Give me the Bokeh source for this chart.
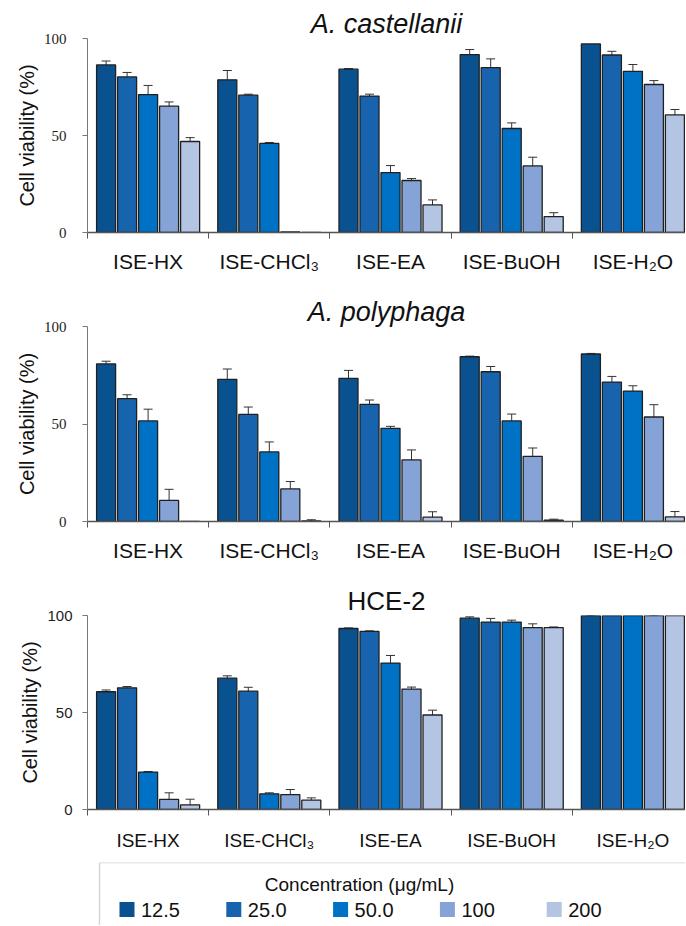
from bokeh.plotting import figure
from bokeh.models import ColumnDataSource, FixedTicker, Whisker, TeeHead, Label, BoxAnnotation, Range1d
from bokeh.layouts import column
from bokeh.embed import file_html
from bokeh.resources import INLINE
from bokeh.core.properties import value

# ---------------- data ----------------
extracts = ["ISE-HX", "ISE-CHCl\u2083", "ISE-EA", "ISE-BuOH", "ISE-H\u2082O"]
concentrations = ["12.5", "25.0", "50.0", "100", "200"]
conc_colors = ["#0a5190", "#1763ae", "#0072c6", "#85a3d6", "#b4c5e4"]

# A. castellanii (rows: extracts, cols: concentrations)
castellanii_mean = [
    [86.4, 80.2, 71.1, 65.1, 46.9],
    [78.7, 70.8, 45.9, 0.3, 0.0],
    [84.2, 70.3, 30.9, 26.8, 14.2],
    [91.7, 85.0, 53.6, 34.3, 8.2],
    [97.2, 91.5, 83.1, 76.3, 60.6],
]
castellanii_err = [
    [2.0, 2.3, 4.7, 2.2, 2.0],
    [4.8, 0.5, 0.5, 0.0, 0.0],
    [0.3, 1.0, 3.6, 1.0, 2.6],
    [2.6, 4.5, 2.9, 4.5, 2.0],
    [0.0, 1.9, 3.5, 2.0, 2.8],
]

# A. polyphaga
polyphaga_mean = [
    [80.8, 63.0, 51.6, 10.8, 0.0],
    [72.9, 54.9, 35.7, 16.7, 0.3],
    [73.4, 60.1, 47.8, 31.6, 2.2],
    [84.5, 76.8, 51.6, 33.4, 0.7],
    [85.9, 71.5, 66.9, 53.6, 2.4],
]
polyphaga_err = [
    [1.4, 2.0, 6.0, 5.7, 0.0],
    [5.3, 3.8, 5.1, 3.8, 0.6],
    [4.1, 2.2, 1.0, 5.1, 2.8],
    [0.3, 2.7, 3.5, 4.3, 0.5],
    [0.3, 2.9, 2.7, 6.3, 2.7],
]

# HCE-2
hce_mean = [
    [60.7, 62.7, 19.3, 5.2, 2.4],
    [67.7, 61.0, 8.1, 7.7, 4.8],
    [93.3, 91.8, 75.5, 62.1, 48.7],
    [98.6, 96.6, 96.6, 93.8, 93.8],
    [100.0, 100.0, 100.0, 100.0, 100.0],
]
hce_err = [
    [0.9, 0.7, 0.3, 3.4, 2.9],
    [1.2, 2.0, 0.5, 2.6, 1.2],
    [0.3, 0.3, 3.9, 1.0, 2.5],
    [0.7, 1.9, 1.0, 1.9, 0.3],
    [0.3, 0.0, 0.0, 0.3, 0.0],
]

y_ticks = [0, 50, 100]

FONT = "Liberation Sans"
W = 685
FRAME_LEFT = 87
BAR_STEP = 0.1733
BAR_W = 0.157


def make_panel(title, means, errs, height, top, bottom, title_style, title_size,
               tick_font, cat_size, tick_standoff, cat_standoff):
    p = figure(width=W, height=height, x_range=Range1d(-0.5, 4.434), y_range=Range1d(0, 100),
               output_backend="svg", toolbar_location=None, title=title,
               min_border_left=FRAME_LEFT, min_border_right=0,
               min_border_top=top, min_border_bottom=bottom)
    p.grid.visible = False
    p.outline_line_color = None
    p.background_fill_color = "white"

    p.title.align = "center"
    p.title.offset = 4
    p.title.standoff = 0
    p.title.text_font = FONT
    p.title.text_font_size = title_size
    p.title.text_font_style = title_style
    p.title.text_color = "#111111"

    xs, tops, cols, wx, wl, wu = [], [], [], [], [], []
    for i in range(len(extracts)):
        for j in range(len(concentrations)):
            x = i + (j - 2) * BAR_STEP
            m = means[i][j]
            e = errs[i][j]
            xs.append(x)
            tops.append(m)
            cols.append(conc_colors[j])
            if e > 0:
                wx.append(x)
                wl.append(m - e)
                wu.append(m + e)
    src = ColumnDataSource(dict(x=xs, top=tops, color=cols))
    p.vbar(x="x", top="top", width=BAR_W, bottom=0, fill_color="color",
           line_color="#202020", line_width=1.3, source=src)

    wsrc = ColumnDataSource(dict(x=wx, lower=wl, upper=wu))
    w = Whisker(base="x", lower="lower", upper="upper", source=wsrc, dimension="height",
                line_color="#333333", line_width=1,
                upper_head=TeeHead(size=9, line_color="#333333", line_width=1),
                lower_head=TeeHead(size=9, line_color="#333333", line_width=1))
    p.add_layout(w)

    xa = p.xaxis[0]
    xa.ticker = FixedTicker(ticks=list(range(len(extracts))),
                            minor_ticks=[k - 0.5 for k in range(len(extracts) + 1)])
    xa.major_label_overrides = {i: name for i, name in enumerate(extracts)}
    xa.major_tick_line_color = None
    xa.major_tick_out = 0
    xa.major_tick_in = 0
    xa.minor_tick_out = 6
    xa.minor_tick_in = 0
    xa.minor_tick_line_color = "#555555"
    xa.axis_line_color = "#555555"
    xa.axis_line_width = 1.3
    xa.major_label_text_font = FONT
    xa.major_label_text_font_size = cat_size
    xa.major_label_text_color = "#111111"
    xa.major_label_standoff = cat_standoff

    ya = p.yaxis[0]
    ya.ticker = FixedTicker(ticks=y_ticks)
    ya.minor_tick_line_color = None
    ya.major_tick_out = 5
    ya.major_tick_in = 0
    ya.major_tick_line_color = "#777777"
    ya.axis_line_color = "#777777"
    ya.major_label_text_font = tick_font
    ya.major_label_text_font_size = "15px"
    ya.major_label_text_color = "#222222"
    ya.major_label_standoff = tick_standoff
    ya.axis_label = "Cell viability (%)"
    ya.axis_label_text_font = FONT
    ya.axis_label_text_font_style = "normal"
    ya.axis_label_text_font_size = "20px"
    ya.axis_label_text_color = "#111111"
    ya.axis_label_standoff = 3
    return p


p1 = make_panel("A. castellanii", castellanii_mean, castellanii_err, 289, 38, 57,
                "italic", "27px", "Liberation Sans Narrow", "21px", 16, 11)
p2 = make_panel("A. polyphaga", polyphaga_mean, polyphaga_err, 290, 37, 58,
                "italic", "27px", "Liberation Sans Narrow", "21px", 16, 11)
p3 = make_panel("HCE-2", hce_mean, hce_err, 282, 36, 52,
                "normal", "26px", FONT, "19px", 10, 14)

# ---------------- legend ----------------
LH = 64
BOX_INSET = 12  # legend box starts this far right of the panels' frame edge
lp = figure(width=W, height=LH, x_range=Range1d(-BOX_INSET, W - FRAME_LEFT - BOX_INSET),
            y_range=Range1d(0, LH - 1),
            output_backend="svg", toolbar_location=None,
            x_axis_location=None, y_axis_location=None,
            min_border_left=FRAME_LEFT, min_border_right=0, min_border_top=1, min_border_bottom=0)
lp.grid.visible = False
lp.outline_line_color = None

item_x = [27.5 + k * 106.8 for k in range(len(concentrations))]
item_y = LH - 1 - 47
lsrc = ColumnDataSource(dict(x=item_x, tx=[v + 14 for v in item_x],
                             y=[item_y] * len(concentrations), label=concentrations, color=conc_colors))
lp.rect(x="x", y="y", width=15, height=15, fill_color="color", line_color=None, source=lsrc)
lp.text(x="tx", y="y", text="label", text_baseline="middle", text_align="left",
        text_font=value(FONT), text_font_size="20px", text_color="#111111", source=lsrc)
lp.add_layout(Label(x=260, y=LH - 1 - 22, text="Concentration (\u03bcg/mL)", text_align="center",
                    text_baseline="middle", text_font=FONT, text_font_size="19px",
                    text_color="#111111"))
# open-ended legend frame: only its top and left borders fall inside the canvas
lp.add_layout(BoxAnnotation(left=0, right=W * 2, top=LH - 1, bottom=-LH,
                            fill_alpha=0, line_color="#666666", line_width=1.3))

layout = column(p1, p2, p3, lp, spacing=0)
open("out.html", "w").write(file_html(layout, INLINE))
